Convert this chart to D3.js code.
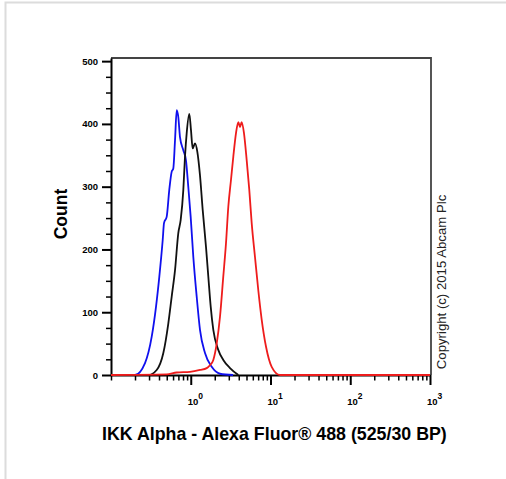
<!DOCTYPE html>
<html>
<head>
<meta charset="utf-8">
<script src="https://cdn.jsdelivr.net/npm/d3@7"></script>
<style>
body { margin: 0; background: #fff; }
svg { display: block; font-family: "Liberation Sans", Arial, sans-serif; }
</style>
</head>
<body>
<svg id="canvas" width="506" height="479"></svg>
<script>
// histogram traces (fluorescence, count)
let blueX = [0.1, 0.2, 0.267, 0.324, 0.367, 0.403, 0.445, 0.462, 0.499, 0.538, 0.577, 0.604, 0.635, 0.667, 0.698, 0.733, 0.807, 0.871, 0.931, 0.998, 1.077, 1.187, 1.306, 1.509, 1.832, 2.327, 3.39]
let blueCount = [0, 0, 19, 61, 109, 156, 215, 242, 252, 295, 324, 329, 374, 422, 411, 379, 358, 342, 300, 252, 188, 125, 72, 35, 13, 2, 0]

let blackX = [0.1, 0.294, 0.374, 0.453, 0.523, 0.577, 0.635, 0.698, 0.748, 0.807, 0.847, 0.889, 0.959, 1.007, 1.057, 1.13, 1.208, 1.306, 1.412, 1.553, 1.66, 1.779, 1.918, 2.214, 2.559, 3.105, 3.95]
let blackCount = [0, 0, 8, 35, 82, 125, 167, 226, 247, 295, 348, 385, 416, 390, 361, 369, 356, 318, 263, 204, 157, 109, 72, 40, 24, 11, 0]

let redX = [0.1, 0.499, 0.667, 0.978, 1.306, 1.585, 1.75, 1.918, 2.115, 2.327, 2.559, 2.767, 2.958, 3.197, 3.418, 3.69, 3.95, 4.145, 4.352, 4.653, 5.031, 5.42, 5.81, 6.39, 7.03, 7.76, 8.79, 10.35, 13.15, 1000]
let redCount = [0, 1, 4, 5, 8, 11, 16, 24, 50, 93, 157, 210, 268, 311, 348, 385, 403, 395, 403, 385, 342, 295, 242, 188, 135, 88, 45, 13, 0, 0]

let yMajor = [0, 100, 200, 300, 400, 500]
let xMajor = [1, 10, 100, 1000]
let xExponents = ['0', '1', '2', '3']

let canvas = d3.select('#canvas')

// light grey page frame
canvas.append('path')
      .attr('d', 'M5.5,479V2.5H506')
      .attr('fill', 'none')
      .attr('stroke', '#dcdcdc')
      .attr('stroke-width', 2)

let x = d3.scaleLog().domain([0.1, 1000]).range([111, 430])
let y = d3.scaleLinear().domain([0, 505]).range([375, 58])

// frame top and right
canvas.append('path')
      .attr('d', `M${x(0.1)},${y(505)}H${x(1000) + 1}V${y(0)}`)
      .attr('fill', 'none')
      .attr('stroke', '#444')
      .attr('stroke-width', 1.8)

// y axis
let yTicks = d3.range(0, 501, 25)
let yAxis = canvas.append('g')
      .attr('transform', `translate(${x(0.1)},0)`)
      .call(d3.axisLeft(y).tickValues(yTicks).tickSizeOuter(0).tickFormat(''))
yAxis.select('.domain').attr('stroke', '#000').attr('stroke-width', 2)
yAxis.selectAll('.tick line')
     .attr('stroke', '#000')
     .attr('stroke-width', (d) => yMajor.includes(d) ? 2 : 1.5)
     .attr('x2', (d) => yMajor.includes(d) ? -9 : -5)
canvas.selectAll('.ylab')
      .data(yMajor)
      .enter()
      .append('text')
      .attr('class', 'ylab')
      .attr('x', 98)
      .attr('y', (d) => y(d) + 3.5)
      .attr('text-anchor', 'end')
      .attr('font-size', 9.5)
      .attr('font-weight', 'bold')
      .text((d) => d)

// x axis
let xTicks = []
for (let e = -1; e < 3; e++) {
    for (let m = 1; m < 10; m++) {
        xTicks.push(m * Math.pow(10, e))
    }
}
xTicks.push(1000)
let xAxis = canvas.append('g')
      .attr('transform', `translate(0,${y(0)})`)
      .call(d3.axisBottom(x).tickValues(xTicks).tickSizeOuter(0).tickFormat(''))
xAxis.select('.domain').attr('stroke', '#000').attr('stroke-width', 2)
xAxis.selectAll('.tick line')
     .attr('stroke', '#000')
     .attr('stroke-width', (d) => xMajor.includes(d) ? 2 : 1.5)
     .attr('y2', (d) => xMajor.includes(d) ? 10 : 5.5)

let xLabels = canvas.selectAll('.xlab')
      .data(xMajor)
      .enter()
      .append('text')
      .attr('class', 'xlab')
      .attr('x', (d) => x(d) - 3)
      .attr('y', 405)
      .attr('font-size', 9.5)
      .attr('font-weight', 'bold')
xLabels.append('tspan').text('10')
xLabels.append('tspan')
       .attr('dy', -6)
       .attr('font-size', 8.5)
       .text((d, i) => xExponents[i])

// traces
let line = d3.line()
      .x((d) => x(d[0]))
      .y((d) => y(d[1]))
      .curve(d3.curveMonotoneX)

let traces = [
    { xs: blueX, ys: blueCount, color: '#1010ee' },
    { xs: blackX, ys: blackCount, color: '#111111' },
    { xs: redX, ys: redCount, color: '#ee1c1c' }
]
canvas.selectAll('.trace')
      .data(traces)
      .enter()
      .append('path')
      .attr('class', 'trace')
      .attr('d', (t) => line(t.xs.map((v, i) => [v, t.ys[i]])))
      .attr('fill', 'none')
      .attr('stroke', (t) => t.color)
      .attr('stroke-width', 1.8)

// titles
canvas.append('text')
      .attr('x', 102)
      .attr('y', 440)
      .attr('font-size', 17.8)
      .attr('font-weight', 'bold')
      .text('IKK Alpha - Alexa Fluor® 488 (525/30 BP)')

canvas.append('text')
      .attr('transform', 'translate(67,214) rotate(-90)')
      .attr('text-anchor', 'middle')
      .attr('font-size', 17.5)
      .attr('font-weight', 'bold')
      .text('Count')

canvas.append('text')
      .attr('transform', 'translate(446,282) rotate(-90)')
      .attr('text-anchor', 'middle')
      .attr('font-size', 13.2)
      .attr('fill', '#222')
      .text('Copyright (c) 2015 Abcam Plc')
</script>
</body>
</html>
